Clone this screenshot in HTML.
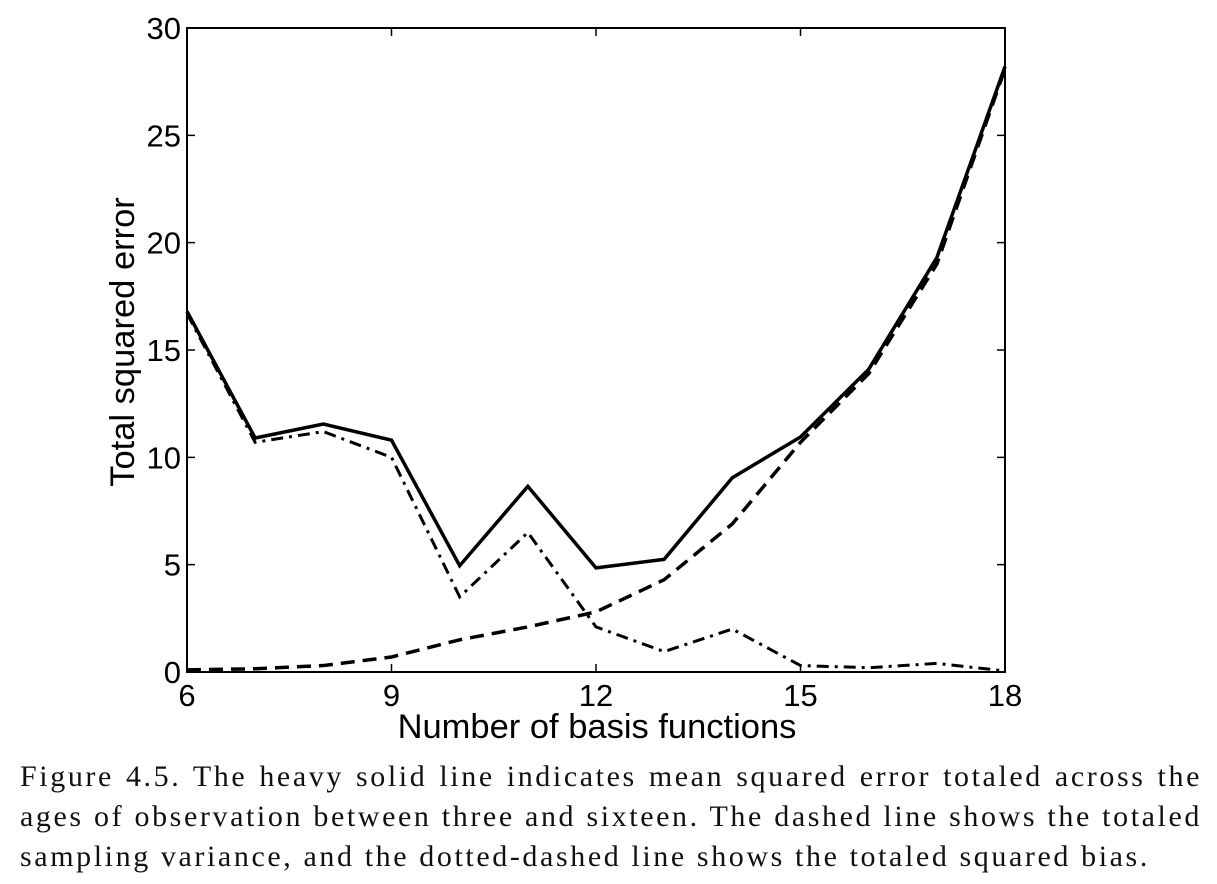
<!DOCTYPE html>
<html><head><meta charset="utf-8"><style>
body{margin:0;background:#fff;width:1217px;height:884px;overflow:hidden}
svg{position:absolute;left:0;top:0}
.cap{position:absolute;left:20px;top:757px;width:1182px;font-family:"Liberation Serif",serif;font-size:30px;line-height:40px;color:#111;letter-spacing:2.6px}
.cap div{text-align:justify;text-align-last:justify;white-space:nowrap}
.cap div.last{text-align-last:left}
</style></head><body>
<svg id="chart" width="1217" height="750"></svg>
<div class="cap">
<div>Figure 4.5. The heavy solid line indicates mean squared error totaled across the</div>
<div>ages of observation between three and sixteen. The dashed line shows the totaled</div>
<div class="last">sampling variance, and the dotted-dashed line shows the totaled squared bias.</div>
</div>
<script>
const xs=[6,7,8,9,10,11,12,13,14,15,16,17,18];
const mse=[16.8,10.9,11.55,10.8,4.95,8.65,4.85,5.25,9.05,10.95,14.1,19.3,28.2];
const variance=[0.1,0.15,0.3,0.7,1.5,2.1,2.8,4.3,6.9,10.7,13.9,19.0,28.1];
const bias=[16.7,10.7,11.2,10.0,3.5,6.5,2.1,0.95,2.0,0.3,0.2,0.4,0.05];
const xTicks=[6,9,12,15,18];
const yTicks=[0,5,10,15,20,25,30];
const L=187,R=1005,T=28,B=672;
const sx=v=>L+(v-6)/12*(R-L), sy=v=>B-v/30*(B-T);
const svg=document.getElementById('chart');
const NS='http://www.w3.org/2000/svg';
function mk(t,a){const e=document.createElementNS(NS,t);for(const k in a)e.setAttribute(k,a[k]);svg.appendChild(e);return e;}
let e;
e=mk('rect',{x:L,y:T,width:R-L,height:B-T,fill:'none',stroke:'#000','stroke-width':2});


xTicks.forEach(v=>{
 e=mk('path',{d:`M${sx(v)},${B}v-8M${sx(v)},${T}v8`,stroke:'#000','stroke-width':1.5});
 
 
 e=mk('text',{x:sx(v),y:B+34,'text-anchor':'middle','font-size':31,'font-family':'Liberation Sans, sans-serif'});e.textContent=v;
 
 
});
yTicks.forEach(v=>{
 e=mk('path',{d:`M${L},${sy(v)}h8M${R},${sy(v)}h-8`,stroke:'#000','stroke-width':1.5});
 
 
 e=mk('text',{x:L-6,y:sy(v)+11,'text-anchor':'end','font-size':31,'font-family':'Liberation Sans, sans-serif'});e.textContent=v;
 
 
});
e=mk('text',{x:597,y:738,'text-anchor':'middle','font-size':34.5,'font-family':'Liberation Sans, sans-serif'});e.textContent='Number of basis functions';


e=mk('text',{x:0,y:0,'text-anchor':'middle','font-size':34.5,'font-family':'Liberation Sans, sans-serif',transform:`translate(134,342) rotate(-90)`});e.textContent='Total squared error';


function line(vals,dash,w,name){
 const d=vals.map((v,i)=>(i?'L':'M')+sx(xs[i])+','+sy(v)).join('');
 const p=mk('path',{d,fill:'none',stroke:'#000','stroke-width':w,'stroke-dasharray':dash,'stroke-linejoin':'miter'});
 
 
}
line(variance,'14,8',3.5,'variance-line');
line(bias,'12,6,3,6',3,'bias-line');
line(mse,'none',3.5,'mse-line');
</script>
</body></html>
